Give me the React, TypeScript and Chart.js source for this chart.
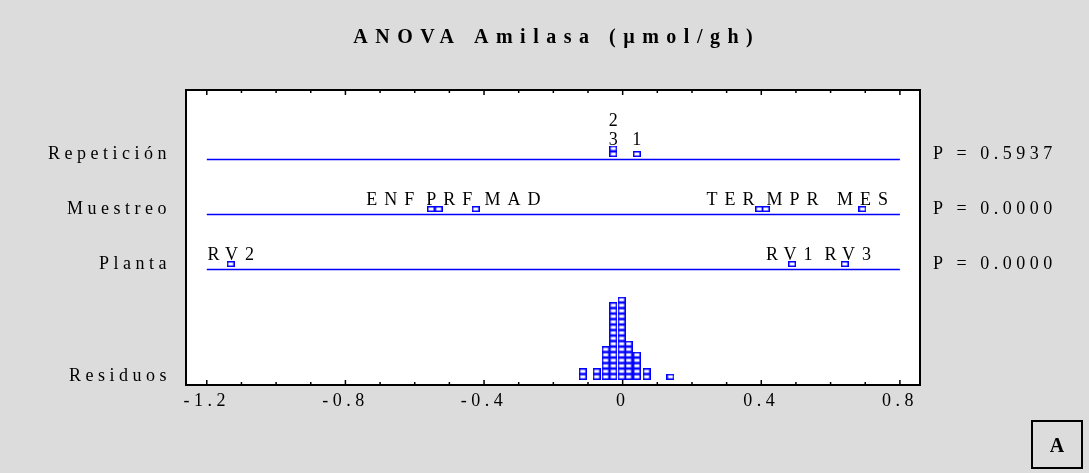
import React, { useEffect, useRef } from "react";
import { Chart, registerables } from "chart.js";

Chart.register(...registerables);

// ---------- data ----------
const TITLE = "ANOVA Amilasa (µmol/gh)";
const PANEL_LETTER = "A";
const FACTOR_NAMES = ["Repetición", "Muestreo", "Planta"];
const FACTOR_ROWS = [4, 3, 2];
const P_VALUES = ["P = 0.5937", "P = 0.0000", "P = 0.0000"];
const RESIDUAL_NAME = "Residuos";

const repLevels = ["1", "2", "3"];
const repEffects = [0.041, -0.027, -0.027];
const muestreoLevels = ["ENF", "PRF", "MAD", "TER", "MPR", "MES"];
const muestreoEffects = [-0.553, -0.531, -0.424, 0.394, 0.413, 0.692];
const plantaLevels = ["RV2", "RV1", "RV3"];
const plantaEffects = [-1.131, 0.489, 0.641];

const residualValues = [-0.115, -0.075, -0.049, -0.027, -0.003, 0.017, 0.041, 0.069, 0.138];
const residualCounts = [2, 2, 6, 14, 15, 7, 5, 2, 1];

const xTickValues = [-1.2, -0.8, -0.4, 0, 0.4, 0.8];
const xMinorStep = 0.1;
const X_MIN = -1.26;
const X_MAX = 0.858;
const Y_MIN = -0.1;
const Y_MAX = 5.264;

const FACTOR_LEVELS = [repLevels, muestreoLevels, plantaLevels];
const FACTOR_EFFECTS = [repEffects, muestreoEffects, plantaEffects];

// ---------- style constants ----------
const BLUE = "#0000ff";
const BG = "#dcdcdc";
const SERIF = "'Liberation Serif', 'Times New Roman', serif";
const LIFT = 0.1; // marker centre above its line, in row units
const PITCH = 0.1; // stack pitch in row units
const RES_BASE = 0.05;
const MARK_W = 8;
const MARK_H = 6;
const LABEL_SPACING = 7;
const AXIS_SPACING = 4.5;
const LABEL_GAP = 12;
const LABEL_LINE = 18.3;

function makeMarker(): HTMLCanvasElement {
  const c = document.createElement("canvas");
  c.width = MARK_W;
  c.height = MARK_H;
  const g = c.getContext("2d")!;
  g.strokeStyle = BLUE;
  g.lineWidth = 1.5;
  g.strokeRect(0.75, 0.75, MARK_W - 1.5, MARK_H - 1.5);
  return c;
}

function stackValues(values: number[], counts: number[] | null, base: number) {
  const pts: { x: number; y: number }[] = [];
  const seen: Record<string, number> = {};
  values.forEach((v, i) => {
    const n = counts ? counts[i] : 1;
    for (let j = 0; j < n; j++) {
      const key = v.toFixed(4);
      const k = seen[key] || 0;
      seen[key] = k + 1;
      pts.push({ x: v, y: base + k * PITCH });
    }
  });
  return pts;
}

const backgroundPlugin = {
  id: "bgPlugin",
  beforeDraw(chart: any) {
    const { ctx, chartArea: a } = chart;
    ctx.save();
    ctx.fillStyle = BG;
    ctx.fillRect(0, 0, chart.width, chart.height);
    ctx.fillStyle = "#ffffff";
    ctx.fillRect(a.left, a.top, a.right - a.left, a.bottom - a.top);
    ctx.restore();
    (ctx as any).letterSpacing = AXIS_SPACING + "px";
  },
};

function drawFactorLabels(chart: any) {
  const { ctx } = chart;
  const xs = chart.scales.x;
  const ys = chart.scales.y;
  ctx.save();
  ctx.font = `18px ${SERIF}`;
  (ctx as any).letterSpacing = LABEL_SPACING + "px";
  ctx.fillStyle = "#000";
  ctx.textBaseline = "alphabetic";
  ctx.textAlign = "left";
  const tw = (s: string) => ctx.measureText(s).width - LABEL_SPACING;
  FACTOR_ROWS.forEach((row, fi) => {
    const levels = FACTOR_LEVELS[fi];
    const effects = FACTOR_EFFECTS[fi];
    const groups: { value: number; labels: string[] }[] = [];
    effects.forEach((e, i) => {
      let g = groups.find((gg) => Math.abs(gg.value - e) < 1e-9);
      if (!g) {
        g = { value: e, labels: [] };
        groups.push(g);
      }
      g.labels.push(levels[i]);
    });
    const maxStack = Math.max(...groups.map((g) => g.labels.length));
    const topCenter = ys.getPixelForValue(row + LIFT + (maxStack - 1) * PITCH);
    const baseline = topCenter - MARK_H / 2 - 1;
    const items = groups
      .map((g) => ({
        x: xs.getPixelForValue(g.value),
        w: Math.max(...g.labels.map(tw)),
        labels: g.labels,
      }))
      .sort((a, b) => a.x - b.x);
    const clusters: any[] = items.map((it) => ({ items: [it] }));
    const layout = (c: any) => {
      const n = c.items.length;
      const w = c.items.reduce((s: number, it: any) => s + it.w, 0) + LABEL_GAP * (n - 1);
      const center = (c.items[0].x + c.items[n - 1].x) / 2;
      c.left = center - w / 2;
      c.right = c.left + w;
    };
    clusters.forEach(layout);
    let merged = true;
    while (merged) {
      merged = false;
      for (let i = 0; i < clusters.length - 1; i++) {
        if (clusters[i].right + LABEL_GAP > clusters[i + 1].left) {
          clusters[i].items.push(...clusters[i + 1].items);
          clusters.splice(i + 1, 1);
          layout(clusters[i]);
          merged = true;
          break;
        }
      }
    }
    clusters.forEach((c) => {
      let x = c.left;
      c.items.forEach((it: any) => {
        const n = it.labels.length;
        it.labels.forEach((lab: string, j: number) => {
          ctx.fillText(lab, x + (it.w - tw(lab)) / 2, baseline - (n - 1 - j) * LABEL_LINE);
        });
        x += it.w + LABEL_GAP;
      });
    });
  });
  ctx.restore();
}

const overlayPlugin = {
  id: "overlayPlugin",
  afterDraw(chart: any) {
    const { ctx, chartArea: a } = chart;
    const xs = chart.scales.x;
    ctx.save();
    // frame
    ctx.strokeStyle = "#000";
    ctx.lineWidth = 2;
    ctx.strokeRect(a.left, a.top, a.right - a.left, a.bottom - a.top);
    // inward ticks on top and bottom
    ctx.lineWidth = 1.5;
    const first = Math.round(xTickValues[0] / xMinorStep);
    const last = Math.round(xTickValues[xTickValues.length - 1] / xMinorStep);
    const majorEvery = Math.round((xTickValues[1] - xTickValues[0]) / xMinorStep);
    ctx.beginPath();
    for (let i = first; i <= last; i++) {
      const px = xs.getPixelForValue(i * xMinorStep);
      const len = (i - first) % majorEvery === 0 ? 5 : 3;
      ctx.moveTo(px, a.bottom);
      ctx.lineTo(px, a.bottom - len);
      ctx.moveTo(px, a.top);
      ctx.lineTo(px, a.top + len);
    }
    ctx.stroke();
    ctx.restore();

    drawFactorLabels(chart);

    // title
    ctx.save();
    ctx.font = `bold 20px ${SERIF}`;
    const ts = 7.5;
    (ctx as any).letterSpacing = ts + "px";
    ctx.fillStyle = "#000";
    ctx.textAlign = "left";
    ctx.textBaseline = "alphabetic";
    const w = ctx.measureText(TITLE).width - ts;
    ctx.fillText(TITLE, (a.left + a.right) / 2 - w / 2, 43.3);
    ctx.restore();

    // panel letter box
    ctx.save();
    ctx.strokeStyle = "#000";
    ctx.lineWidth = 2;
    ctx.strokeRect(1032, 421, 50, 47);
    (ctx as any).letterSpacing = "0px";
    ctx.font = `bold 20px ${SERIF}`;
    ctx.fillStyle = "#000";
    ctx.textAlign = "center";
    ctx.textBaseline = "alphabetic";
    ctx.fillText(PANEL_LETTER, 1057, 452);
    ctx.restore();
  },
};

export default function App() {
  const ref = useRef<HTMLCanvasElement | null>(null);
  useEffect(() => {
    const canvas = ref.current!;
    const marker = makeMarker();
    const lineSets = FACTOR_ROWS.map((row, i) => ({
      label: FACTOR_NAMES[i],
      data: [
        { x: xTickValues[0], y: row },
        { x: xTickValues[xTickValues.length - 1], y: row },
      ],
      showLine: true,
      borderColor: BLUE,
      borderWidth: 1.5,
      pointRadius: 0,
    }));
    const factorPoints = FACTOR_ROWS.flatMap((row, i) =>
      stackValues(FACTOR_EFFECTS[i], null, row + LIFT)
    );
    const residualPoints = stackValues(residualValues, residualCounts, RES_BASE);
    const leftTicks = [...FACTOR_ROWS.map((r) => r + LIFT), RES_BASE];
    const leftLabels = [...FACTOR_NAMES, RESIDUAL_NAME];
    const rightTicks = FACTOR_ROWS.map((r) => r + LIFT);

    const tickFont = { family: SERIF, size: 18 };
    const chart = new Chart(canvas, {
      type: "scatter",
      data: {
        datasets: [
          ...lineSets,
          {
            label: "efectos",
            data: factorPoints,
            pointStyle: marker,
            pointRadius: 4,
            showLine: false,
          },
          {
            label: RESIDUAL_NAME,
            data: residualPoints,
            pointStyle: marker,
            pointRadius: 4,
            showLine: false,
          },
        ] as any,
      },
      options: {
        animation: false,
        responsive: false,
        devicePixelRatio: 1,
        layout: { padding: { top: 90, left: 0, right: 0, bottom: 0 } },
        plugins: {
          legend: { display: false },
          tooltip: { enabled: false },
          title: { display: false },
        },
        scales: {
          x: {
            type: "linear",
            position: "bottom",
            min: X_MIN,
            max: X_MAX,
            grid: { display: false, drawTicks: false },
            border: { display: false },
            afterBuildTicks: (s: any) => {
              s.ticks = xTickValues.map((v) => ({ value: v }));
            },
            afterFit: (s: any) => {
              s.height = 88;
            },
            ticks: {
              autoSkip: false,
              maxRotation: 0,
              padding: 5,
              color: "#000",
              font: tickFont,
              callback: (_v: any, i: number) =>
                xTickValues[i] === 0 ? "0" : xTickValues[i].toFixed(1),
            },
          },
          y: {
            type: "linear",
            position: "left",
            min: Y_MIN,
            max: Y_MAX,
            grid: { display: false, drawTicks: false },
            border: { display: false },
            afterBuildTicks: (s: any) => {
              s.ticks = leftTicks.map((v) => ({ value: v }));
            },
            afterFit: (s: any) => {
              s.width = 186;
            },
            ticks: {
              autoSkip: false,
              padding: 15,
              color: "#000",
              font: tickFont,
              callback: (_v: any, i: number) => leftLabels[i],
            },
          },
          yR: {
            type: "linear",
            position: "right",
            min: Y_MIN,
            max: Y_MAX,
            grid: { display: false, drawTicks: false },
            border: { display: false },
            afterBuildTicks: (s: any) => {
              s.ticks = rightTicks.map((v) => ({ value: v }));
            },
            afterFit: (s: any) => {
              s.width = 169;
            },
            ticks: {
              autoSkip: false,
              padding: 13,
              color: "#000",
              font: tickFont,
              callback: (_v: any, i: number) => P_VALUES[i],
            },
          },
        },
      } as any,
      plugins: [backgroundPlugin, overlayPlugin],
    });
    return () => chart.destroy();
  }, []);

  return (
    <div style={{ position: "fixed", left: 0, top: 0, width: 1089, height: 473 }}>
      <canvas ref={ref} width={1089} height={473} style={{ display: "block", width: 1089, height: 473 }} />
    </div>
  );
}
